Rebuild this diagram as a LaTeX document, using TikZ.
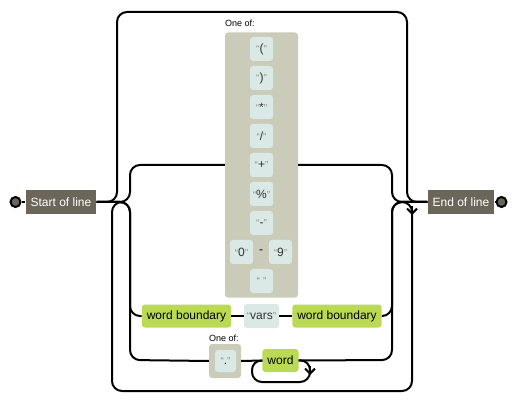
\documentclass[tikz,border=0pt]{standalone}
\usepackage{fontspec}
\setmainfont{Liberation Sans}
\usetikzlibrary{arrows.meta}
\definecolor{anchorc}{HTML}{6B6659}
\definecolor{setc}{HTML}{CBCBBA}
\definecolor{litc}{HTML}{DAE9E5}
\definecolor{escc}{HTML}{BADA55}
\definecolor{quotec}{HTML}{908C83}
\tikzset{
 conn/.style={line width=2pt, rounded corners=10pt},
 anchorbox/.style={fill=anchorc, text=white, font=\fontsize{12}{14}\selectfont, minimum height=24pt, inner xsep=5pt, inner ysep=0pt},
 litbox/.style={fill=litc, rounded corners=3pt, minimum height=24pt, minimum width=23pt, inner xsep=3pt, inner ysep=0pt, font=\fontsize{12}{14}\selectfont, text=black!80},
 escbox/.style={fill=escc, rounded corners=3pt, minimum height=23pt, inner xsep=5pt, inner ysep=0pt, font=\fontsize{12}{14}\selectfont},
 setbox/.style={fill=setc, rounded corners=3pt},
 lbl/.style={font=\fontsize{9}{10}\selectfont, anchor=base west, inner sep=0pt},
 enddot/.style={circle, draw=black, line width=2pt, fill=anchorc, minimum size=10pt, inner sep=0pt},
 arrowseg/.style={line width=2pt, -{Straight Barb[length=5pt,width=10pt]}}
}
\newcommand{\lit}[1]{{\color{quotec}\fontsize{10}{10}\selectfont“}#1{\color{quotec}\fontsize{10}{10}\selectfont”}}
\begin{document}
\begin{tikzpicture}[x=1pt,y=-1pt]
\useasboundingbox (0,0) rectangle (519,403);
% endpoints
\node[anchorbox] (start) at (61,202) {Start of line};
\node[anchorbox] (end) at (461,202) {End of line};
\node[enddot] (sd) at (15.5,202) {};
\node[enddot] (ed) at (501.5,202) {};
% charset
\node[setbox, minimum width=73pt, minimum height=265pt] (set) at (261.5,165) {};
\node[lbl] (setl) at (225,27) {One of:};
\node[litbox] (c1) at (261.5,49) {\lit{(}};
\node[litbox] (c2) at (261.5,78) {\lit{)}};
\node[litbox] (c3) at (261.5,107) {\lit{*}};
\node[litbox] (c4) at (261.5,136) {\lit{/}};
\node[litbox] (c5) at (261.5,165) {\lit{+}};
\node[litbox] (c6) at (261.5,194) {\lit{\%}};
\node[litbox] (c7) at (261.5,223) {\lit{-}};
\node[litbox] (c8a) at (241.5,252) {\lit{0}};
\node[font=\fontsize{12}{14}\selectfont, inner sep=0pt] (rdash) at (261,252) {-};
\node[litbox] (c8b) at (280.5,252) {\lit{9}};
\node[litbox] (c9) at (261.5,281) {\lit{\ }};
% middle row
\node[escbox] (wb1) at (186.5,316) {word boundary};
\node[litbox] (vars) at (261.5,316) {\lit{vars}};
\node[escbox] (wb2) at (337,316) {word boundary};
% bottom row
\node[setbox, minimum width=32pt, minimum height=34pt] (dotset) at (225,361) {};
\node[litbox, minimum width=21pt, minimum height=22pt] (dotlit) at (225.5,361) {\lit{.}};
\node[lbl] (dotl) at (209,341) {One of:};
\node[escbox] (word) at (280.5,360.5) {word};
% connectors
\draw[conn] (sd.east) -- (start.west);
\draw[conn] (end.east) -- (ed.west);
\coordinate (lj) at (122,202);
\coordinate (rj) at (400,202);
% skip path
\draw[conn] (start.east) -- (117,202) -- (117,12) -- (407,12) -- (407,202) -- (end.west);
% alternation entries
\draw[conn] (start.east) -- (130,202) -- (130,165) -- (set.west);
\draw[conn] (start.east) -- (130,202) -- (130,316) -- (wb1.west);
\draw[conn] (start.east) -- (130,202) -- (130,360) -- (dotset.west);
% alternation exits
\draw[conn] (set.east) -- (392,165) -- (392,202) -- (end.west);
\draw[conn] (wb2.east) -- (392,316) -- (392,202) -- (end.west);
\draw[conn] (word.east) -- (392,360) -- (392,202) -- (end.west);
% row links
\draw[conn] (wb1.east) -- (vars.west);
\draw[conn] (vars.east) -- (wb2.west);
\draw[conn] (dotset.east) -- (word.west);
% repeat loop
\draw[conn] (rj) -- (412,202) -- (412,391) -- (112,391) -- (112,202) -- (lj);
\draw[arrowseg] (412,206) -- (412,215);
% word loop
\draw[conn] (word.east) -- (310,360) -- (310,382) -- (252,382) -- (252,360) -- (word.west);
\draw[arrowseg] (310,366) -- (310,375);
\end{tikzpicture}
\end{document}
